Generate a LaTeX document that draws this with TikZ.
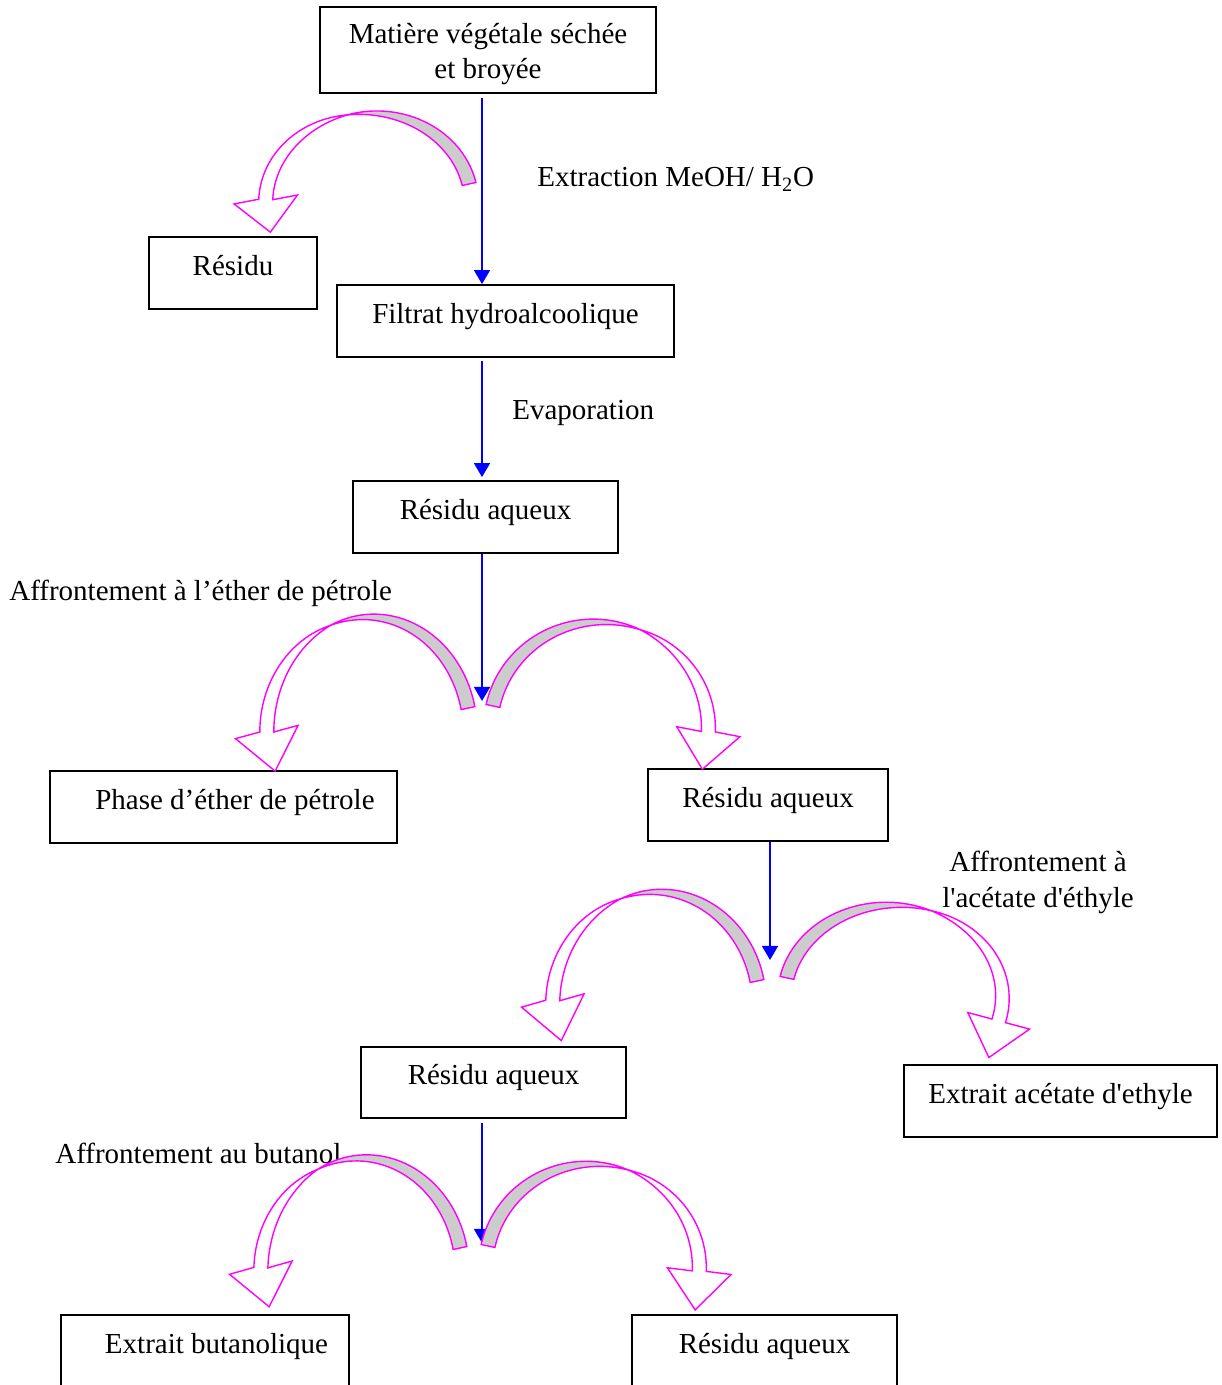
\documentclass[tikz,border=0pt]{standalone}
\usepackage{fontspec}
\setmainfont{Liberation Serif}
\usepackage{tikz}
\usetikzlibrary{calc}
\usetikzlibrary{arrows.meta}

\definecolor{bandmagenta}{RGB}{255,0,255}
\definecolor{bandgray}{RGB}{204,204,204}

\tikzset{declare function={bw(\u)=7*(1-(1-\u)^2);}}

% twisted band arrow: cx, cy, a, b, t base, t twist, t end, head angle, head length
\newcommand{\twistarrow}[9]{%
  \pgfmathsetmacro{\hbx}{(#1)+(#3)*cos(#7)}
  \pgfmathsetmacro{\hby}{(#2)-(#4)*sin(#7)}
  \pgfmathsetmacro{\hsg}{sign((#7)-(#6))}
  \pgfmathsetmacro{\hnx}{cos(#8)}
  \pgfmathsetmacro{\hny}{-sin(#8)}
  \pgfmathsetmacro{\hdx}{-(\hsg)*sin(#8)}
  \pgfmathsetmacro{\hdy}{-(\hsg)*cos(#8)}
  \filldraw[band,fill=bandgray]
    plot[domain=#5:#6,samples=40,variable=\t]
      ({(#1)+((#3)+bw((\t-(#6))/((#5)-(#6))))*cos(\t)},{(#2)-((#4)+bw((\t-(#6))/((#5)-(#6))))*sin(\t)})
    -- plot[domain=#6:#5,samples=40,variable=\t]
      ({(#1)+((#3)-bw((\t-(#6))/((#5)-(#6))))*cos(\t)},{(#2)-((#4)-bw((\t-(#6))/((#5)-(#6))))*sin(\t)})
    -- cycle;
  \filldraw[band,fill=white]
    plot[domain=#6:#7,samples=40,variable=\t]
      ({(#1)+((#3)+bw((\t-(#6))/((#7)-(#6))))*cos(\t)},{(#2)-((#4)+bw((\t-(#6))/((#7)-(#6))))*sin(\t)})
    -- ({\hbx+32*\hnx},{\hby+32*\hny})
    -- ({\hbx+(#9)*\hdx},{\hby+(#9)*\hdy})
    -- ({\hbx-32*\hnx},{\hby-32*\hny})
    -- plot[domain=#7:#6,samples=40,variable=\t]
      ({(#1)+((#3)-bw((\t-(#6))/((#7)-(#6))))*cos(\t)},{(#2)-((#4)-bw((\t-(#6))/((#7)-(#6))))*sin(\t)})
    -- cycle;
}

\begin{document}
\begin{tikzpicture}[x=0.02cm,y=-0.02cm,
  every node/.style={font=\fontsize{16.5}{19}\selectfont},
  box/.style={draw,line width=1pt,inner sep=0pt,minimum height=1.44cm,text height=11pt,text depth=8.2pt},
  flow/.style={blue,line width=1.3pt,-{Triangle[length=8pt,width=9pt]}},
  band/.style={bandmagenta,line width=0.8pt,line join=miter}]
	\useasboundingbox (0,0) rectangle (1221,1385);
	\clip (0,0) rectangle (1221,1385);

	% boxes
	\node[box,minimum width=6.72cm,minimum height=1.72cm,align=center,text height=,text depth=,
	  font=\fontsize{16.5}{19.5}\selectfont] (mat) at (488,50) {\rule{0pt}{16pt}Matière végétale séchée\\et broyée};
	\node[box,minimum width=3.36cm] (res) at (233,273) {Résidu};
	\node[box,minimum width=6.74cm] (filtrat) at (505.5,321) {Filtrat hydroalcoolique};
	\node[box,minimum width=5.3cm] (aq1) at (485.5,517) {Résidu aqueux};
	\node[box,minimum width=6.94cm] (ether) at (223.5,807) {\hspace*{0.46cm}Phase d’éther de pétrole};
	\node[box,minimum width=4.8cm] (aq2) at (768,805) {Résidu aqueux};
	\node[box,minimum width=5.3cm,minimum height=1.42cm] (aq3) at (493.5,1082.5) {Résidu aqueux};
	\node[box,minimum width=6.26cm] (acet) at (1060.5,1101) {Extrait acétate d\textquotesingle ethyle};
	\node[box,minimum width=5.76cm] (buta) at (205,1351) {\hspace*{0.46cm}Extrait butanolique};
	\node[box,minimum width=5.3cm] (aq4) at (764.5,1351) {Résidu aqueux};

	% labels
	\node[anchor=base west,inner sep=0pt] (lextr) at (537,187) {Extraction MeOH/ H\textsubscript{2}O};
	\node[anchor=base west,inner sep=0pt] (levap) at (512,419) {Evaporation};
	\node[anchor=base west,inner sep=0pt] (lether) at (9,600) {Affrontement à l’éther de pétrole};
	\node[align=center,inner sep=0pt,font=\fontsize{16.5}{20.5}\selectfont] (lacet) at (1038,882)
	  {Affrontement à\\l\textquotesingle acétate d\textquotesingle éthyle};
	\node[anchor=base west,inner sep=0pt] (lbuta) at (55,1163) {Affrontement au butanol};

	% blue flow
	\coordinate (axisA) at (482,0);
	\coordinate (axisB) at (770,0);
	\coordinate (split1) at (482,701);
	\coordinate (split2) at (770,960);
	\coordinate (split3) at (482,1243);
	\draw[flow] ([yshift=-0.08cm]mat.south -| axisA) -- (filtrat.north -| axisA);
	\draw[flow] ([yshift=-0.06cm]filtrat.south -| axisA) -- ([yshift=0.06cm]aq1.north -| axisA);
	\draw[flow] (aq1.south -| axisA) -- (split1);
	\draw[flow] (aq2.south -| axisB) -- (split2);
	\draw[flow] ([yshift=-0.08cm]aq3.south -| axisA) -- (split3);

	% curved arrows
	\twistarrow{368.5}{202.6}{102.8}{89.6}{12}{102}{178}{188}{33}
	\twistarrow{368.5}{732}{101.7}{115}{12}{112}{180}{192}{40}
	\twistarrow{599.5}{728}{108.9}{106}{168}{68}{-2}{-9}{38}
	\twistarrow{656}{1004.4}{103.3}{112.4}{12}{110}{178}{192}{41}
	\twistarrow{893.5}{997}{108.9}{92}{168}{70}{-15}{-15}{38}
	\twistarrow{361.5}{1271.6}{100.7}{113.6}{12}{116}{178}{192}{40}
	\twistarrow{592.5}{1267.5}{106.8}{103.5}{168}{70}{-2}{-6}{39}
\end{tikzpicture}
\end{document}
